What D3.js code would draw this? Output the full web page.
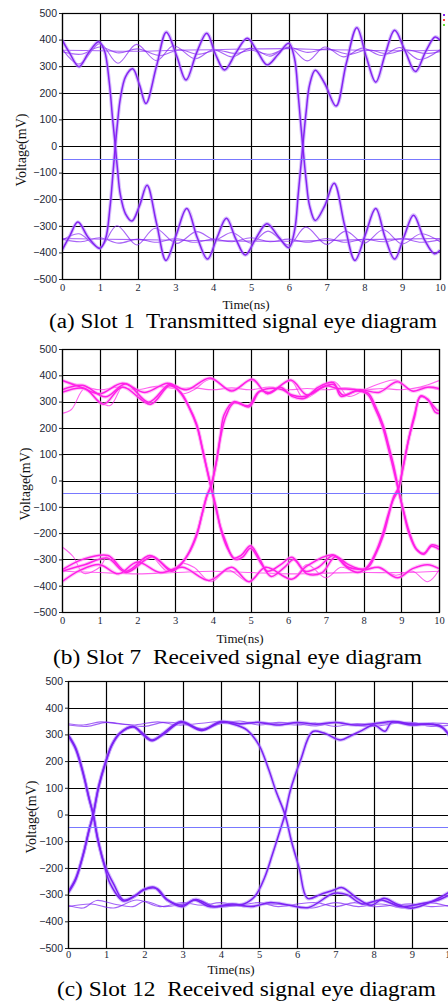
<!doctype html>
<meta charset="utf-8">

<style>
 body { margin: 0; background: #fff; }
 .ytick text { font-family: "Liberation Sans", Arial, sans-serif; font-size: 10.5px; fill: #232838; }
 .xtick text { font-family: "Times New Roman", "Liberation Serif", serif; font-size: 10.5px; fill: #232838; }
 .ytick line { stroke: #222; }
 .label { font-family: "Times New Roman", "Liberation Serif", serif; fill: #111; }
 .caption { font-family: "Times New Roman", "Liberation Serif", serif; fill: #000; white-space: pre; }
 .grid line { stroke: #000; stroke-width: 1.2; }
</style>

<svg width="448" height="1002"></svg>

<script src="https://d3js.org/d3.v7.min.js"></script>
<script>
 // Axis ticks
 var timeTicks = [0, 1, 2, 3, 4, 5, 6, 7, 8, 9, 10];
 var voltTicks = [500, 400, 300, 200, 100, 0, -100, -200, -300, -400, -500];
 var refLevel = -47;

 // (a) Slot 1 transmitted, [ns, mV]
 var slot1Fall = [[0,400],[0.2,350],[0.45,298],[0.7,350],[0.97,392],[1.12,360],[1.25,240],[1.34,100],[1.41,0],[1.47,-90],[1.54,-180],[1.68,-255],[1.85,-282],[2.05,-225],[2.25,-148],[2.5,-290],[2.75,-430],[3.02,-335],[3.3,-235],[3.58,-345],[3.85,-425],[4.1,-345],[4.35,-272],[4.6,-350],[4.85,-410],[5.12,-350],[5.42,-292],[5.72,-340],[6.0,-382],[6.15,-320],[6.25,-180],[6.33,-60],[6.39,30],[6.46,130],[6.55,230],[6.7,285],[6.95,235],[7.25,150],[7.52,310],[7.8,445],[8.05,335],[8.3,240],[8.55,345],[8.8,435],[9.07,360],[9.35,280],[9.62,355],[9.87,410],[10,398]];
 var slot1Rise = [[0,-392],[0.2,-340],[0.42,-286],[0.7,-345],[1.0,-385],[1.15,-350],[1.27,-230],[1.35,-100],[1.41,0],[1.47,90],[1.54,175],[1.68,260],[1.87,290],[2.05,230],[2.22,160],[2.5,300],[2.76,428],[3.03,340],[3.28,248],[3.56,350],[3.83,424],[4.06,345],[4.3,286],[4.6,350],[4.9,405],[5.17,355],[5.43,305],[5.72,345],[6.0,386],[6.15,330],[6.25,190],[6.33,60],[6.39,-30],[6.46,-130],[6.55,-225],[6.7,-280],[6.95,-225],[7.2,-140],[7.48,-300],[7.75,-430],[8.02,-335],[8.3,-235],[8.55,-345],[8.8,-425],[9.05,-340],[9.3,-260],[9.58,-350],[9.85,-405],[10,-392]];
 var slot1HighRing = [[0,365],[0.45,308],[1.0,385],[1.48,311],[1.97,382],[2.5,321],[2.95,377],[3.52,328],[4.0,362],[4.5,335],[5.0,368],[5.5,338],[6.0,372],[6.49,320],[6.95,372],[7.45,335],[7.95,368],[8.45,340],[8.95,370],[9.45,325],[10,362]];
 var slot1HighSmall = [[0,355],[0.5,345],[1.0,372],[1.5,350],[2.0,365],[2.6,340],[3.1,362],[3.6,345],[4.1,360],[4.6,348],[5.0,360],[5.5,345],[6.0,370],[6.5,352],[7.0,365],[7.6,345],[8.1,362],[8.6,346],[9.1,362],[9.6,348],[10,355]];
 var slot1HighFlat = [[0,360],[1,358],[2,356],[3,360],[4,362],[5,365],[6,366],[7,362],[8,360],[9,358],[10,360]];
 var slot1LowRing = [[0,-355],[0.45,-330],[1.0,-382],[1.45,-300],[1.98,-372],[2.46,-309],[3.03,-366],[3.56,-322],[4.05,-352],[4.5,-325],[5.0,-365],[5.45,-320],[6.0,-372],[6.45,-305],[7.0,-370],[7.5,-320],[8.0,-365],[8.5,-315],[9.0,-368],[9.5,-330],[10,-360]];
 var slot1LowSmall = [[0,-350],[0.5,-360],[1.0,-345],[1.5,-365],[2.0,-350],[2.5,-362],[3.0,-348],[3.5,-362],[4.0,-350],[4.5,-360],[5.0,-345],[5.5,-360],[6.0,-350],[6.5,-362],[7.0,-348],[7.5,-362],[8.0,-350],[8.5,-360],[9.0,-348],[9.5,-362],[10,-352]];
 var slot1LowFlat = [[0,-348],[2,-352],[4,-356],[6,-358],[8,-352],[10,-348]];

 // (b) Slot 7 received
 var slot7Fall = [[0,345],[0.55,362],[1.15,318],[1.7,368],[2.3,298],[2.85,365],[3.1,340],[3.35,285],[3.57,215],[3.72,125],[3.84,45],[3.95,-25],[4.08,-105],[4.2,-175],[4.35,-235],[4.55,-295],[4.75,-285],[5.0,-248],[5.25,-300],[5.45,-345],[5.8,-320],[6.1,-292],[6.45,-345],[6.8,-330],[7.2,-285],[7.55,-330],[7.85,-350],[8.1,-328],[8.3,-280],[8.5,-205],[8.65,-130],[8.78,-75],[8.92,-35],[9.05,50],[9.2,160],[9.35,250],[9.52,322],[9.75,300],[9.95,268],[10,266]];
 var slot7Rise = [[0,-340],[0.55,-300],[1.22,-285],[1.7,-345],[2.33,-285],[2.9,-340],[3.1,-325],[3.35,-280],[3.57,-210],[3.72,-125],[3.84,-60],[3.95,-25],[4.08,60],[4.2,170],[4.3,250],[4.56,300],[4.96,280],[5.25,340],[5.5,335],[5.8,355],[6.1,320],[6.42,312],[6.8,355],[7.2,372],[7.4,320],[7.8,340],[8.1,328],[8.3,275],[8.5,205],[8.65,125],[8.78,50],[8.92,-35],[9.05,-110],[9.2,-190],[9.4,-260],[9.6,-277],[9.8,-250],[9.96,-258],[10,-262]];
 var slot7FallStay = [[0,335],[0.6,350],[1.1,290],[1.6,355],[2.35,290],[2.85,360],[3.15,335],[3.38,275],[3.58,205],[3.73,115],[3.85,40],[3.95,-20],[4.1,-110],[4.22,-190],[4.38,-255],[4.6,-300],[4.8,-290],[5.0,-258],[5.3,-320],[5.55,-365],[5.9,-330],[6.15,-300],[6.5,-355],[6.9,-350],[7.25,-290],[7.6,-320],[8.0,-340],[8.4,-330],[8.9,-370],[9.3,-335],[9.7,-320],[10,-335]];
 var slot7RiseStay = [[0,-345],[0.6,-320],[1.2,-295],[1.7,-350],[2.4,-290],[2.9,-345],[3.15,-320],[3.38,-270],[3.58,-200],[3.73,-120],[3.85,-55],[3.95,-20],[4.1,75],[4.22,175],[4.35,245],[4.56,295],[4.95,285],[5.2,335],[5.5,350],[5.85,345],[6.1,325],[6.45,320],[6.85,350],[7.2,365],[7.45,325],[7.9,345],[8.4,335],[8.9,375],[9.3,340],[9.7,355],[10,350]];
 var slot7LateFall = [[0,380],[0.5,355],[1.0,330],[1.6,370],[2.2,335],[2.8,370],[3.3,345],[3.93,390],[4.5,340],[5.05,385],[5.45,330],[6.07,382],[6.5,325],[7.0,360],[7.3,350],[7.8,345],[8.12,332],[8.32,280],[8.52,210],[8.67,130],[8.8,55],[8.92,-30],[9.06,-120],[9.2,-200],[9.4,-262],[9.6,-280],[9.8,-245],[10,-252]];
 var slot7LateRise = [[0,-385],[0.5,-340],[1.0,-320],[1.5,-355],[2.0,-310],[2.6,-350],[3.2,-330],[3.9,-380],[4.5,-330],[4.96,-385],[5.4,-330],[6.1,-375],[6.5,-325],[7.2,-283],[7.6,-330],[8.1,-332],[8.32,-280],[8.52,-210],[8.67,-130],[8.8,-60],[8.92,-30],[9.05,55],[9.2,160],[9.35,240],[9.5,318],[9.7,310],[9.9,260],[10,255]];
 var slot7HighTail = [[0,255],[0.25,270],[0.6,350],[1.0,300],[1.28,285],[1.67,370],[2.0,330],[2.34,288],[2.86,370],[3.2,330],[3.5,345],[3.93,385],[4.5,345],[5.05,380],[5.45,330],[6.07,378],[6.42,312],[7.21,376],[7.6,320],[8.1,350],[8.85,382],[9.3,340],[9.6,355],[10,345]];
 var slot7LowTail = [[0,-252],[0.3,-290],[0.57,-353],[1.0,-330],[1.22,-285],[1.6,-340],[2.0,-325],[2.33,-285],[2.8,-345],[3.2,-315],[3.5,-330],[3.95,-385],[4.4,-340],[4.96,-385],[5.4,-330],[6.1,-375],[6.5,-320],[7.0,-370],[7.4,-330],[7.83,-347],[8.3,-330],[8.85,-360],[9.3,-345],[9.7,-385],[10,-340]];
 var slot7HighFlat = [[0,382],[0.5,360],[1.0,345],[1.5,355],[2.0,345],[2.5,358],[3.0,350],[3.5,352],[4.0,345],[4.5,352],[5.0,345],[5.5,355],[6.0,345],[6.5,350],[7.0,345],[7.5,352],[8.0,345],[8.5,350],[9.0,345],[9.5,355],[10,380]];
 var slot7LowFlat = [[0,-345],[1,-350],[2,-355],[3,-350],[4,-345],[5,-350],[6,-355],[7,-352],[8,-350],[9,-350],[10,-345]];

 // (c) Slot 12 received
 var slot12Fall = [[0,295],[0.2,245],[0.4,150],[0.55,60],[0.66,0],[0.78,-95],[0.95,-190],[1.1,-258],[1.45,-324],[1.75,-305],[1.97,-283],[2.32,-277],[2.6,-320],[3.0,-345],[3.3,-320],[3.7,-345],[4.2,-340],[4.6,-335],[4.9,-305],[5.15,-235],[5.35,-150],[5.55,-60],[5.68,0],[5.82,90],[6.09,204],[6.4,310],[6.7,305],[7.14,279],[7.4,295],[7.7,315],[8.01,335],[8.3,312],[8.47,345],[9.0,335],[9.5,338],[9.8,325],[10,292]];
 var slot12Rise = [[0,-295],[0.2,-245],[0.4,-150],[0.55,-60],[0.66,0],[0.8,100],[0.98,192],[1.15,260],[1.36,304],[1.71,328],[1.95,305],[2.19,279],[2.5,300],[2.95,345],[3.5,315],[4.0,345],[4.4,335],[4.69,316],[5.0,260],[5.25,170],[5.45,85],[5.68,0],[5.85,-100],[6.05,-200],[6.27,-314],[6.6,-300],[6.96,-283],[7.18,-274],[7.58,-315],[7.94,-340],[8.27,-314],[8.6,-335],[8.97,-351],[9.41,-333],[9.75,-310],[10,-289]];
 var slot12FallStay = [[0,300],[0.2,250],[0.4,155],[0.55,62],[0.66,0],[0.78,-90],[0.95,-185],[1.2,-262],[1.45,-320],[1.75,-305],[2.0,-280],[2.25,-272],[2.6,-320],[3.0,-340],[3.35,-318],[3.8,-345],[4.3,-335],[4.8,-345],[5.3,-330],[5.8,-340],[6.3,-348],[6.96,-295],[7.3,-300],[7.7,-335],[8.2,-320],[8.7,-345],[9.2,-335],[9.7,-320],[10,-300]];
 var slot12RiseStay = [[0,-290],[0.2,-240],[0.4,-148],[0.55,-58],[0.66,0],[0.8,105],[0.98,195],[1.15,262],[1.36,305],[1.71,330],[1.95,300],[2.2,276],[2.5,305],[2.95,348],[3.5,318],[4.0,348],[4.5,340],[5.0,345],[5.5,335],[6.0,345],[6.5,338],[7.0,345],[7.5,335],[8.0,340],[8.5,348],[9.0,340],[9.7,335],[9.85,320],[10,292]];
 var slot12HighA = [[0,340],[0.4,335],[0.85,347],[1.3,340],[1.7,335],[2.35,347],[2.9,335],[3.5,342],[4.0,348],[4.5,338],[5.0,345],[5.5,340],[6.0,335],[6.5,342],[7.0,330],[7.5,340],[8.0,338],[8.5,343],[9.0,338],[9.5,342],[10,340]];
 var slot12HighB = [[0,335],[0.5,330],[1.0,345],[1.5,338],[2.0,330],[2.5,345],[3.0,340],[3.5,322],[4.0,340],[4.5,350],[5.0,335],[5.5,345],[6.0,340],[6.5,332],[7.0,345],[7.5,335],[8.0,330],[8.5,340],[9.0,345],[9.5,330],[10,335]];
 var slot12LowA = [[0,-340],[0.4,-350],[0.75,-322],[1.2,-335],[1.7,-345],[2.0,-325],[2.5,-345],[3.0,-335],[3.4,-320],[3.9,-345],[4.5,-340],[5.0,-330],[5.5,-345],[6.0,-335],[6.5,-330],[7.0,-345],[7.5,-330],[8.0,-345],[8.5,-340],[9.0,-335],[9.5,-345],[10,-340]];
 var slot12LowB = [[0,-345],[0.6,-335],[1.2,-350],[1.8,-320],[2.4,-345],[3.0,-330],[3.5,-340],[4.0,-330],[4.6,-345],[5.2,-335],[5.8,-340],[6.4,-350],[7.0,-330],[7.6,-345],[8.2,-335],[8.8,-350],[9.4,-330],[10,-345]];

 var svg = d3.select('svg');

 var panels = [
   { box: { left: 62, right: 440, top: 13, bottom: 279 },
     color: '#8424f2', halo: '#b88dfb', tickPad: 5,
     edges: [slot1Fall, slot1Rise],
     levels: [slot1HighRing, slot1HighSmall, slot1HighFlat, slot1LowRing, slot1LowSmall, slot1LowFlat],
     ylab: { x: 21, y: 150 }, xlab: { x: 246, y: 309 },
     caption: { text: '(a) Slot 1  Transmitted signal eye diagram', x: 49, w: 388, y: 328 } },
   { box: { left: 62, right: 439, top: 349, bottom: 612 },
     color: '#ff1fe8', halo: '#ff9af3', tickPad: 5,
     edges: [slot7Fall, slot7Rise, slot7FallStay, slot7RiseStay, slot7LateFall, slot7LateRise],
     levels: [slot7HighTail, slot7LowTail, slot7HighFlat, slot7LowFlat],
     ylab: { x: 25, y: 484 }, xlab: { x: 240, y: 643 },
     caption: { text: '(b) Slot 7  Received signal eye diagram', x: 53, w: 369, y: 664 } },
   { box: { left: 68, right: 450, top: 681, bottom: 948 },
     color: '#7c22f4', halo: '#b690fb', tickPad: 3,
     edges: [slot12Fall, slot12Rise, slot12FallStay, slot12RiseStay],
     levels: [slot12HighA, slot12HighB, slot12LowA, slot12LowB],
     ylab: { x: 31, y: 817 }, xlab: { x: 231, y: 974 },
     caption: { text: '(c) Slot 12  Received signal eye diagram', x: 57, w: 379, y: 996 } }
 ];

 panels.forEach(function(p, i) {
   var b = p.box;
   var x = d3.scaleLinear().domain([0, 10]).range([b.left, b.right]);
   var y = d3.scaleLinear().domain([-500, 500]).range([b.bottom, b.top]);
   var g = svg.append('g');

   g.append('clipPath').attr('id', 'clip' + i)
     .append('rect')
     .attr('x', b.left).attr('y', b.top)
     .attr('width', b.right - b.left).attr('height', b.bottom - b.top);

   // grid
   var grid = g.append('g').attr('class', 'grid');
   grid.selectAll('.v').data(timeTicks).enter().append('line')
     .attr('x1', function(d) { return Math.round(x(d)) + 0.5; })
     .attr('x2', function(d) { return Math.round(x(d)) + 0.5; })
     .attr('y1', b.top).attr('y2', b.bottom);
   grid.selectAll('.h').data(voltTicks).enter().append('line')
     .attr('x1', b.left).attr('x2', b.right)
     .attr('y1', function(d) { return Math.round(y(d)) + 0.5; })
     .attr('y2', function(d) { return Math.round(y(d)) + 0.5; });

   // traces
   var line = d3.line()
     .x(function(d) { return x(d[0]); })
     .y(function(d) { return y(d[1]); })
     .curve(d3.curveCatmullRom.alpha(0.5));
   var traces = g.append('g').attr('clip-path', 'url(#clip' + i + ')');

   traces.selectAll('.lv').data(p.levels).enter().append('path')
     .attr('d', line).attr('fill', 'none')
     .attr('stroke', p.color).attr('stroke-width', 1.1).attr('opacity', 0.7);

   traces.selectAll('.eh').data(p.edges).enter().append('path')
     .attr('d', line).attr('fill', 'none')
     .attr('stroke', p.halo).attr('stroke-width', 3.6).attr('opacity', 0.55);
   traces.selectAll('.ec').data(p.edges).enter().append('path')
     .attr('d', line).attr('fill', 'none')
     .attr('stroke', p.color).attr('stroke-width', 1.5);

   // reference level
   g.append('line')
     .attr('x1', b.left).attr('x2', Math.min(b.right, 448))
     .attr('y1', Math.round(y(refLevel)) + 0.5).attr('y2', Math.round(y(refLevel)) + 0.5)
     .attr('stroke', '#7878ff').attr('stroke-width', 1.2);

   // axes
   var yAxis = g.append('g').attr('class', 'ytick')
     .attr('transform', 'translate(' + b.left + ',0)')
     .call(d3.axisLeft(y).tickValues(voltTicks).tickSize(3).tickPadding(2));
   yAxis.select('.domain').remove();

   var xAxis = g.append('g').attr('class', 'xtick')
     .attr('transform', 'translate(0,' + b.bottom + ')')
     .call(d3.axisBottom(x).tickValues(timeTicks).tickSize(0).tickPadding(p.tickPad));
   xAxis.select('.domain').remove();

   // frame
   g.append('rect')
     .attr('x', b.left + 0.5).attr('y', b.top + 0.5)
     .attr('width', b.right - b.left).attr('height', b.bottom - b.top)
     .attr('fill', 'none').attr('stroke', '#000').attr('stroke-width', 1.2);

   // labels
   g.append('text').attr('class', 'label')
     .attr('transform', 'translate(' + p.ylab.x + ',' + p.ylab.y + ') rotate(-90)')
     .attr('text-anchor', 'middle').attr('dy', '0.35em')
     .attr('font-size', 14).text('Voltage(mV)');
   g.append('text').attr('class', 'label')
     .attr('x', p.xlab.x).attr('y', p.xlab.y)
     .attr('text-anchor', 'middle').attr('font-size', 13).text('Time(ns)');
   g.append('text').attr('class', 'caption')
     .attr('x', p.caption.x).attr('y', p.caption.y)
     .attr('font-size', 20)
     .attr('textLength', p.caption.w).attr('lengthAdjust', 'spacingAndGlyphs')
     .text(p.caption.text);
 });

 // small legend marks at the top right of (a)
 var legendColors = ['#8424f2', '#ff4444', '#66dd33'];
 svg.selectAll('.lg').data(legendColors).enter().append('rect')
   .attr('x', 443).attr('y', function(d, i) { return 14 + i * 5; })
   .attr('width', 2).attr('height', 2).attr('fill', function(d) { return d; });
</script>
